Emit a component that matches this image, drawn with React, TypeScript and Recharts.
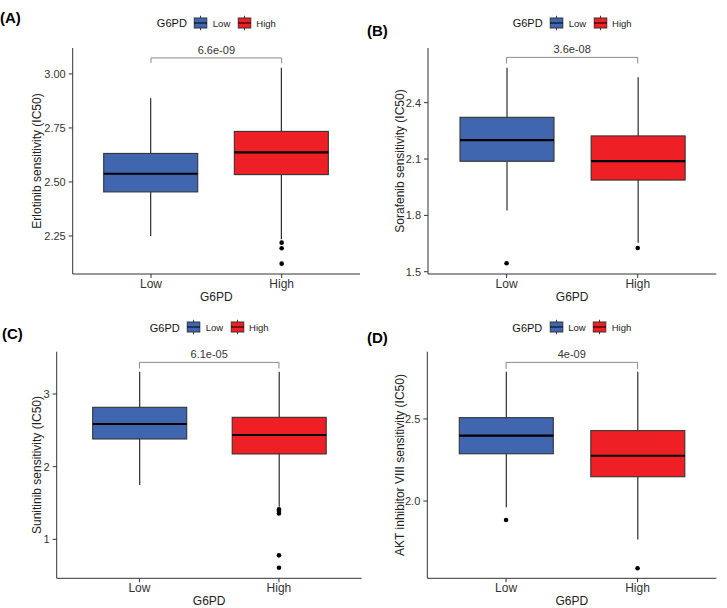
import { ComposedChart, Bar, Scatter, XAxis, YAxis, ReferenceLine } from "recharts";

const groups = ["Low", "High"];
const groupColors = ["#4066B0", "#EE1F25"];

// box stats: [lower whisker, Q1, median, Q3, upper whisker]
const erlotinibLow = [2.25, 2.454, 2.538, 2.632, 2.888];
const erlotinibHigh = [2.235, 2.534, 2.637, 2.734, 3.029];
const erlotinibOutLow: number[] = [];
const erlotinibOutHigh = [2.219, 2.193, 2.122];
const erlotinibTicks = [2.25, 2.5, 2.75, 3.0];

const sorafenibLow = [1.826, 2.088, 2.201, 2.322, 2.586];
const sorafenibHigh = [1.655, 1.988, 2.089, 2.223, 2.535];
const sorafenibOutLow = [1.545];
const sorafenibOutHigh = [1.626];
const sorafenibTicks = [1.5, 1.8, 2.1, 2.4];

const sunitinibLow = [1.748, 2.381, 2.587, 2.817, 3.307];
const sunitinibHigh = [1.45, 2.175, 2.436, 2.679, 3.307];
const sunitinibOutLow: number[] = [];
const sunitinibOutHigh = [1.412, 1.39, 1.357, 0.78, 0.609];
const sunitinibTicks = [1, 2, 3];

const aktLow = [1.962, 2.288, 2.398, 2.508, 2.788];
const aktHigh = [1.766, 2.148, 2.276, 2.429, 2.788];
const aktOutLow = [1.884];
const aktOutHigh = [1.59];
const aktTicks = [2.0, 2.5];

const FONT = "'Liberation Sans', Arial, sans-serif";

function toRows(low: number[], high: number[]) {
  return [low, high].map((s, i) => ({
    group: groups[i],
    lo: s[0],
    q1: s[1],
    med: s[2],
    q3: s[3],
    hi: s[4],
    fill: groupColors[i],
  }));
}

function toOutliers(low: number[], high: number[]) {
  return [
    ...low.map((v) => ({ group: "Low", v })),
    ...high.map((v) => ({ group: "High", v })),
  ];
}

function BoxShape(props: any) {
  const { x, y, width, height, payload } = props;
  const top = Math.min(y, y + height);
  const bot = Math.max(y, y + height);
  const span = payload.hi - payload.lo;
  const py = (v: number) => bot - ((v - payload.lo) / span) * (bot - top);
  const cx = x + width / 2;
  return (
    <g>
      <line x1={cx} x2={cx} y1={py(payload.hi)} y2={py(payload.q3)} stroke="#1a1a1a" strokeWidth={1.1} />
      <line x1={cx} x2={cx} y1={py(payload.q1)} y2={py(payload.lo)} stroke="#1a1a1a" strokeWidth={1.1} />
      <rect
        x={x}
        y={py(payload.q3)}
        width={width}
        height={py(payload.q1) - py(payload.q3)}
        fill={payload.fill}
        stroke="#333"
        strokeWidth={1.1}
      />
      <line x1={x} x2={x + width} y1={py(payload.med)} y2={py(payload.med)} stroke="#000" strokeWidth={2.2} />
    </g>
  );
}

function LegendKey({ color }: { color: string }) {
  return (
    <svg width={14} height={15} style={{ display: "block" }}>
      <line x1={7} x2={7} y1={0} y2={15} stroke="#333" strokeWidth={1} />
      <rect x={0.5} y={2.5} width={13} height={10} fill={color} stroke="#333" strokeWidth={1} />
      <line x1={0.5} x2={13.5} y1={7.5} y2={7.5} stroke="#000" strokeWidth={1.2} />
    </svg>
  );
}

function GroupLegend({ cx, cy }: { cx: number; cy: number }) {
  return (
    <div
      style={{
        position: "absolute",
        left: cx,
        top: cy,
        transform: "translate(-50%, -50%)",
        display: "flex",
        alignItems: "center",
        fontFamily: FONT,
        whiteSpace: "nowrap",
      }}
    >
      <span style={{ fontSize: 11, color: "#111", marginRight: 7 }}>G6PD</span>
      <LegendKey color={groupColors[0]} />
      <span style={{ fontSize: 9.5, color: "#222", marginLeft: 5, marginRight: 7 }}>Low</span>
      <LegendKey color={groupColors[1]} />
      <span style={{ fontSize: 9.5, color: "#222", marginLeft: 5 }}>High</span>
    </div>
  );
}

type PanelProps = {
  tag: string;
  left: number;
  top: number;
  w: number;
  h: number;
  margin: { top: number; right: number; left: number };
  yAxisWidth: number;
  xAxisHeight: number;
  tagPos: { left: number; top: number };
  legendY: number;
  yLabel: string;
  domain: [number, number];
  ticks: number[];
  decimals: number;
  rows: any[];
  outliers: any[];
  bracket: [number, number];
  pLabel: string;
};

function Panel(p: PanelProps) {
  const plotLeft = p.margin.left + p.yAxisWidth;
  const plotRight = p.w - p.margin.right;
  const axisColor = "#333";
  return (
    <div style={{ position: "absolute", left: p.left, top: p.top, width: p.w, height: p.h }}>
      <div
        style={{
          position: "absolute",
          left: p.tagPos.left,
          top: p.tagPos.top,
          fontFamily: FONT,
          fontWeight: "bold",
          fontSize: 15,
          lineHeight: 1,
          color: "#000",
        }}
      >
        {p.tag}
      </div>
      <GroupLegend cx={(plotLeft + plotRight) / 2} cy={p.legendY} />
      <ComposedChart
        width={p.w}
        height={p.h}
        data={p.rows}
        margin={{ top: p.margin.top, right: p.margin.right, left: p.margin.left, bottom: 0 }}
        style={{ position: "absolute", left: 0, top: 0 }}
      >
        <XAxis
          dataKey="group"
          type="category"
          allowDuplicatedCategory={false}
          height={p.xAxisHeight}
          padding={{ left: 13, right: 13 }}
          stroke={axisColor}
          tickSize={4}
          tickMargin={1}
          tick={{ fontSize: 12, fill: "#333", fontFamily: FONT }}
          label={{
            value: "G6PD",
            position: "insideBottom",
            offset: 3,
            fontSize: 12,
            fill: "#222",
            fontFamily: FONT,
          }}
        />
        <YAxis
          type="number"
          domain={p.domain}
          ticks={p.ticks}
          allowDataOverflow
          width={p.yAxisWidth}
          stroke={axisColor}
          tickSize={4}
          tickMargin={3}
          tickFormatter={(v: number) => v.toFixed(p.decimals)}
          tick={{ fontSize: 11, fill: "#333", fontFamily: FONT }}
          label={{
            value: p.yLabel,
            angle: -90,
            position: "center",
            fontSize: 12,
            fill: "#222",
            fontFamily: FONT,
          }}
        />
        <Bar
          dataKey={(d: any) => [d.lo, d.hi]}
          barSize={94}
          shape={BoxShape}
          isAnimationActive={false}
        />
        <Scatter
          data={p.outliers}
          dataKey="v"
          isAnimationActive={false}
          shape={(s: any) => <circle cx={s.cx} cy={s.cy} r={2.3} fill="#000" />}
        />
        <ReferenceLine
          segment={[
            { x: "Low", y: p.bracket[0] },
            { x: "High", y: p.bracket[0] },
          ]}
          stroke="#8a8a8a"
          strokeWidth={1}
          ifOverflow="visible"
          label={{ value: p.pLabel, position: "top", offset: 4, fontSize: 11, fill: "#333", fontFamily: FONT }}
        />
        <ReferenceLine
          segment={[
            { x: "Low", y: p.bracket[0] },
            { x: "Low", y: p.bracket[1] },
          ]}
          stroke="#8a8a8a"
          strokeWidth={1}
          ifOverflow="visible"
        />
        <ReferenceLine
          segment={[
            { x: "High", y: p.bracket[0] },
            { x: "High", y: p.bracket[1] },
          ]}
          stroke="#8a8a8a"
          strokeWidth={1}
          ifOverflow="visible"
        />
      </ComposedChart>
    </div>
  );
}

export default function App() {
  return (
    <div
      style={{
        position: "absolute",
        left: 0,
        top: 0,
        width: 727,
        height: 608,
        background: "#fff",
        overflow: "hidden",
      }}
    >
      <Panel
        tag="(A)"
        left={0}
        top={0}
        w={363}
        h={304}
        margin={{ top: 48, right: 3, left: 0 }}
        yAxisWidth={72.7}
        xAxisHeight={30}
        tagPos={{ left: 0, top: 10 }}
        legendY={22.7}
        yLabel="Erlotinib sensitivity (IC50)"
        domain={[2.074, 3.12]}
        ticks={erlotinibTicks}
        decimals={2}
        rows={toRows(erlotinibLow, erlotinibHigh)}
        outliers={toOutliers(erlotinibOutLow, erlotinibOutHigh)}
        bracket={[3.074, 3.05]}
        pLabel="6.6e-09"
      />
      <Panel
        tag="(B)"
        left={363}
        top={0}
        w={364}
        h={304}
        margin={{ top: 48, right: 10.7, left: 8 }}
        yAxisWidth={57}
        xAxisHeight={30}
        tagPos={{ left: 4, top: 23 }}
        legendY={22.7}
        yLabel="Sorafenib sensitivity (IC50)"
        domain={[1.488, 2.691]}
        ticks={sorafenibTicks}
        decimals={1}
        rows={toRows(sorafenibLow, sorafenibHigh)}
        outliers={toOutliers(sorafenibOutLow, sorafenibOutHigh)}
        bracket={[2.641, 2.609]}
        pLabel="3.6e-08"
      />
      <Panel
        tag="(C)"
        left={0}
        top={300}
        w={363}
        h={308}
        margin={{ top: 51.7, right: 1.3, left: 16 }}
        yAxisWidth={40.7}
        xAxisHeight={29.7}
        tagPos={{ left: 2, top: 26 }}
        legendY={27.3}
        yLabel="Sunitinib sensitivity (IC50)"
        domain={[0.464, 3.582]}
        ticks={sunitinibTicks}
        decimals={0}
        rows={toRows(sunitinibLow, sunitinibHigh)}
        outliers={toOutliers(sunitinibOutLow, sunitinibOutHigh)}
        bracket={[3.435, 3.35]}
        pLabel="6.1e-05"
      />
      <Panel
        tag="(D)"
        left={363}
        top={300}
        w={364}
        h={308}
        margin={{ top: 51.7, right: 10.7, left: 8.3 }}
        yAxisWidth={56}
        xAxisHeight={29.7}
        tagPos={{ left: 4, top: 30 }}
        legendY={27.3}
        yLabel="AKT inhibitor VIII sensitivity (IC50)"
        domain={[1.529, 2.91]}
        ticks={aktTicks}
        decimals={1}
        rows={toRows(aktLow, aktHigh)}
        outliers={toOutliers(aktOutLow, aktOutHigh)}
        bracket={[2.845, 2.805]}
        pLabel="4e-09"
      />
    </div>
  );
}
